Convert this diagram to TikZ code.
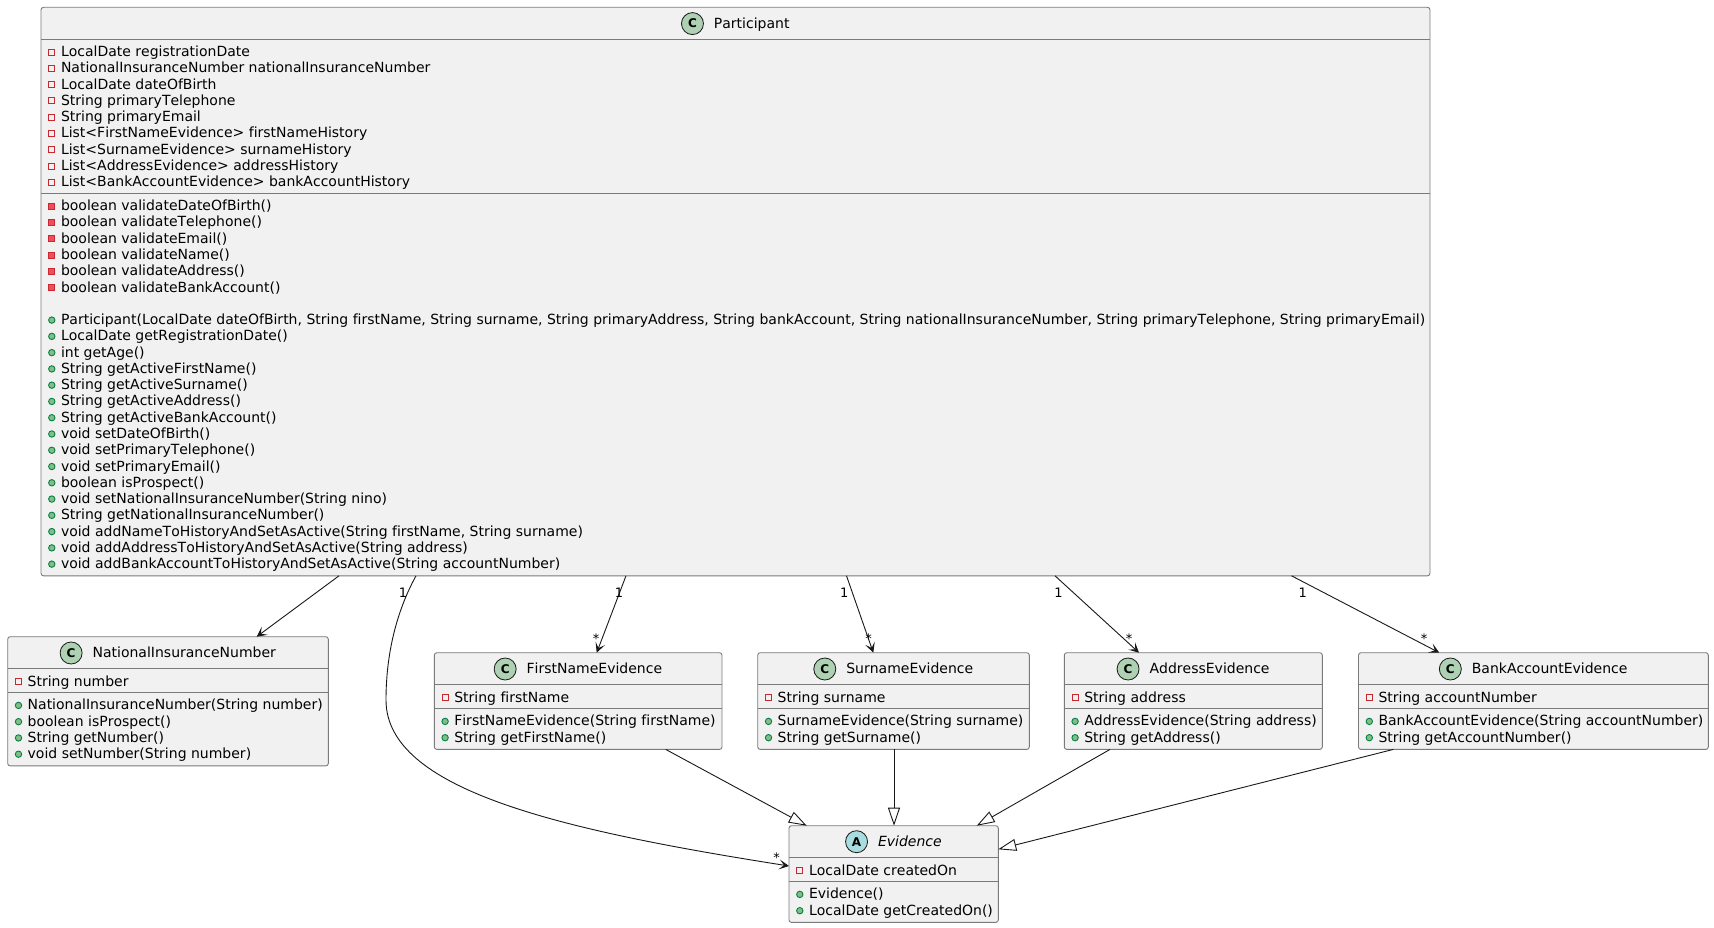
\documentclass[tikz,border=0pt]{standalone}
\usepackage{fontspec}
\setmainfont{DejaVu Sans}[Kerning=Off, Ligatures=NoCommon]
\usetikzlibrary{calc, arrows.meta}

\definecolor{boxfill}{HTML}{F1F1F1}
\definecolor{boxline}{HTML}{7A7A7A}
\definecolor{wire}{HTML}{181818}
\definecolor{privline}{HTML}{C82930}
\definecolor{privfill}{HTML}{F24D5C}
\definecolor{publine}{HTML}{038048}
\definecolor{pubfill}{HTML}{84BE84}
\definecolor{classmark}{HTML}{ADD1B2}
\definecolor{abstractmark}{HTML}{A9DCDF}

\tikzset{
  classbox/.style={draw=boxline, fill=boxfill, line width=0.9pt, rounded corners=2.5pt,
    anchor=north west, inner sep=0pt, outer sep=0pt},
  sepline/.style={draw=boxline, line width=0.9pt},
  memtext/.style={anchor=base west, inner sep=0pt, outer sep=0pt,
    font=\fontsize{14}{16.27}\selectfont},
  titletext/.style={anchor=base, inner sep=0pt, outer sep=0pt,
    font=\fontsize{14}{16.27}\selectfont},
  markcircle/.style={circle, draw=wire, line width=0.8pt, minimum size=22pt,
    inner sep=0pt, font=\fontsize{12}{12}\selectfont\bfseries},
  lbl/.style={anchor=base, inner sep=0pt, font=\fontsize{13}{13}\selectfont},
  assoc/.style={draw=wire, line width=0.9pt,
    -{Stealth[length=10pt, width=10pt, inset=5pt]}},
  generalize/.style={draw=wire, line width=0.9pt,
    -{Triangle[length=18pt, width=12pt, fill=white]}},
}

% visibility markers: (x centre, y centre)
\newcommand\iconprivattr[2]{\draw[privline, line width=0.9pt] ({#1-3},{#2-3}) rectangle ({#1+3},{#2+3});}
\newcommand\iconprivmeth[2]{\filldraw[draw=privline, fill=privfill, line width=0.9pt] ({#1-3},{#2-3}) rectangle ({#1+3},{#2+3});}
\newcommand\iconpubmeth[2]{\filldraw[draw=publine, fill=pubfill, line width=0.9pt] ({#1},{#2}) circle (3.2pt);}

% one member line: name, marker, box left, baseline, text
\newcommand\umlmember[5]{%
  \node[memtext] (#1) at ({#3+20},{#4}) {#5};
  #2{#3+10.8}{#4-4.5}%
}

% class frame: name, left, top, right, bottom
\newcommand\umlbox[5]{%
  \node[classbox, minimum width={#4-#2}, minimum height={#5-#3}] (#1) at (#2,#3) {};%
}

\begin{document}
\begin{tikzpicture}[x=1pt, y=-1pt]
\useasboundingbox (0,0) rectangle (1714,928);

% ---------------- Participant ----------------
\umlbox{participant}{41}{7.3}{1430}{575.8}
\draw[sepline] (41,39) -- (1430,39);
\draw[sepline] (41,193.3) -- (1430,193.3);
\node[titletext] (participant-title) at ({735.5+16.25},28.3) {Participant};
\node[markcircle, fill=classmark] (participant-mark) at ($(participant-title.base west)+(-21.5,-4.7)$) {C};
\foreach \txt [count=\i from 0] in {
  LocalDate registrationDate,
  NationalInsuranceNumber nationalInsuranceNumber,
  LocalDate dateOfBirth,
  String primaryTelephone,
  String primaryEmail,
  List<FirstNameEvidence> firstNameHistory,
  List<SurnameEvidence> surnameHistory,
  List<AddressEvidence> addressHistory,
  List<BankAccountEvidence> bankAccountHistory}
  {\umlmember{participant-a\i}{\iconprivattr}{41}{56.6+16.27*\i}{\txt}}
\foreach \txt [count=\i from 0] in {
  boolean validateDateOfBirth(),
  boolean validateTelephone(),
  boolean validateEmail(),
  boolean validateName(),
  boolean validateAddress(),
  boolean validateBankAccount()}
  {\umlmember{participant-pm\i}{\iconprivmeth}{41}{210.7+16.27*\i}{\txt}}
\foreach \txt [count=\i from 7] in {
  {Participant(LocalDate dateOfBirth, String firstName, String surname, String primaryAddress, String bankAccount, String nationalInsuranceNumber, String primaryTelephone, String primaryEmail)},
  LocalDate getRegistrationDate(),
  int getAge(),
  String getActiveFirstName(),
  String getActiveSurname(),
  String getActiveAddress(),
  String getActiveBankAccount(),
  void setDateOfBirth(),
  void setPrimaryTelephone(),
  void setPrimaryEmail(),
  boolean isProspect(),
  void setNationalInsuranceNumber(String nino),
  String getNationalInsuranceNumber(),
  {void addNameToHistoryAndSetAsActive(String firstName, String surname)},
  void addAddressToHistoryAndSetAsActive(String address),
  void addBankAccountToHistoryAndSetAsActive(String accountNumber)}
  {\umlmember{participant-m\i}{\iconpubmeth}{41}{210.7+16.27*\i}{\txt}}

% ---------------- NationalInsuranceNumber ----------------
\umlbox{nin}{7.7}{636.7}{328.3}{765.9}
\draw[sepline] (7.7,668.4) -- (328.3,668.4);
\draw[sepline] (7.7,692.5) -- (328.3,692.5);
\node[titletext] (nin-title) at ({168+16.25},657.7) {NationalInsuranceNumber};
\node[markcircle, fill=classmark] (nin-mark) at ($(nin-title.base west)+(-21.5,-4.7)$) {C};
\umlmember{nin-a0}{\iconprivattr}{7.7}{686}{String number}
\foreach \txt [count=\i from 0] in {
  NationalInsuranceNumber(String number),
  boolean isProspect(),
  String getNumber(),
  void setNumber(String number)}
  {\umlmember{nin-m\i}{\iconpubmeth}{7.7}{709.9+16.27*\i}{\txt}}

% ---------------- FirstNameEvidence ----------------
\umlbox{fne}{434.3}{652.7}{722}{749.4}
\draw[sepline] (434.3,684.4) -- (722,684.4);
\draw[sepline] (434.3,708.5) -- (722,708.5);
\node[titletext] (fne-title) at ({578.15+16.25},673.7) {FirstNameEvidence};
\node[markcircle, fill=classmark] (fne-mark) at ($(fne-title.base west)+(-21.5,-4.7)$) {C};
\umlmember{fne-a0}{\iconprivattr}{434.3}{702}{String firstName}
\umlmember{fne-m0}{\iconpubmeth}{434.3}{725.9}{FirstNameEvidence(String firstName)}
\umlmember{fne-m1}{\iconpubmeth}{434.3}{742.2}{String getFirstName()}

% ---------------- SurnameEvidence ----------------
\umlbox{se}{757.7}{652.7}{1029.3}{749.4}
\draw[sepline] (757.7,684.4) -- (1029.3,684.4);
\draw[sepline] (757.7,708.5) -- (1029.3,708.5);
\node[titletext] (se-title) at ({893.5+16.25},673.7) {SurnameEvidence};
\node[markcircle, fill=classmark] (se-mark) at ($(se-title.base west)+(-21.5,-4.7)$) {C};
\umlmember{se-a0}{\iconprivattr}{757.7}{702}{String surname}
\umlmember{se-m0}{\iconpubmeth}{757.7}{725.9}{SurnameEvidence(String surname)}
\umlmember{se-m1}{\iconpubmeth}{757.7}{742.2}{String getSurname()}

% ---------------- AddressEvidence ----------------
\umlbox{ae}{1064.3}{652.7}{1322.3}{749.4}
\draw[sepline] (1064.3,684.4) -- (1322.3,684.4);
\draw[sepline] (1064.3,708.5) -- (1322.3,708.5);
\node[titletext] (ae-title) at ({1193.3+16.25},673.7) {AddressEvidence};
\node[markcircle, fill=classmark] (ae-mark) at ($(ae-title.base west)+(-21.5,-4.7)$) {C};
\umlmember{ae-a0}{\iconprivattr}{1064.3}{702}{String address}
\umlmember{ae-m0}{\iconpubmeth}{1064.3}{725.9}{AddressEvidence(String address)}
\umlmember{ae-m1}{\iconpubmeth}{1064.3}{742.2}{String getAddress()}

% ---------------- BankAccountEvidence ----------------
\umlbox{bae}{1358.5}{652.7}{1708.3}{749.4}
\draw[sepline] (1358.5,684.4) -- (1708.3,684.4);
\draw[sepline] (1358.5,708.5) -- (1708.3,708.5);
\node[titletext] (bae-title) at ({1533.4+16.25},673.7) {BankAccountEvidence};
\node[markcircle, fill=classmark] (bae-mark) at ($(bae-title.base west)+(-21.5,-4.7)$) {C};
\umlmember{bae-a0}{\iconprivattr}{1358.5}{702}{String accountNumber}
\umlmember{bae-m0}{\iconpubmeth}{1358.5}{725.9}{BankAccountEvidence(String accountNumber)}
\umlmember{bae-m1}{\iconpubmeth}{1358.5}{742.2}{String getAccountNumber()}

% ---------------- Evidence (abstract) ----------------
\umlbox{evidence}{789}{825.7}{998.3}{922.4}
\draw[sepline] (789,857.4) -- (998.3,857.4);
\draw[sepline] (789,881.5) -- (998.3,881.5);
\node[titletext, font=\fontsize{14}{16.27}\selectfont\itshape] (evidence-title) at ({893.65+16.25},846.4) {Evidence};
\node[markcircle, fill=abstractmark] (evidence-mark) at ($(evidence-title.base west)+(-21.5,-4.7)$) {A};
\umlmember{evidence-a0}{\iconprivattr}{789}{875}{LocalDate createdOn}
\umlmember{evidence-m0}{\iconpubmeth}{789}{898.9}{Evidence()}
\umlmember{evidence-m1}{\iconpubmeth}{789}{915.2}{LocalDate getCreatedOn()}

% ---------------- associations ----------------
\draw[assoc] ($(participant.south west)+(298,0)$) -- ($(nin.north west)+(249,0)$);
\draw[assoc] ($(participant.south west)+(375,0)$)
  .. controls (394,616) and (386,660) .. (386,700)
  .. controls (386,790) and (560,830) .. ($(evidence.north west)+(0,40.3)$);
\draw[assoc] ($(participant.south west)+(585,0)$) -- ($(fne.north west)+(162.4,0)$);
\draw[assoc] ($(participant.south west)+(805.5,0)$) -- ($(se.north west)+(115.6,0)$);
\draw[assoc] ($(participant.south west)+(1014,0)$) -- ($(ae.north west)+(74.7,0)$);
\draw[assoc] ($(participant.south west)+(1250.5,0)$) -- ($(bae.north west)+(80.8,0)$);

% multiplicities
\node[lbl] (lbl-ev-1) at (403,597.4) {1};
\node[lbl] (lbl-ev-n) at (776.7,862) {*};
\node[lbl] (lbl-fne-1) at (619,597.4) {1};
\node[lbl] (lbl-fne-n) at (596,643.7) {*};
\node[lbl] (lbl-se-1) at (844.3,597.4) {1};
\node[lbl] (lbl-se-n) at (868.6,643.7) {*};
\node[lbl] (lbl-ae-1) at (1058.5,597.4) {1};
\node[lbl] (lbl-ae-n) at (1129,643.7) {*};
\node[lbl] (lbl-bae-1) at (1302.7,597.4) {1};
\node[lbl] (lbl-bae-n) at (1424,643.7) {*};

% ---------------- generalisations ----------------
\draw[generalize] ($(fne.south west)+(231.4,0)$) -- ($(evidence.north west)+(17.7,0)$);
\draw[generalize] ($(se.south west)+(136.3,0)$) -- ($(evidence.north west)+(105,0)$);
\draw[generalize] ($(ae.south west)+(45.7,0)$) -- ($(evidence.north west)+(187.7,0)$);
\draw[generalize] ($(bae.south west)+(34.8,0)$) -- ($(evidence.north east)+(0,23.6)$);

\end{tikzpicture}
\end{document}
